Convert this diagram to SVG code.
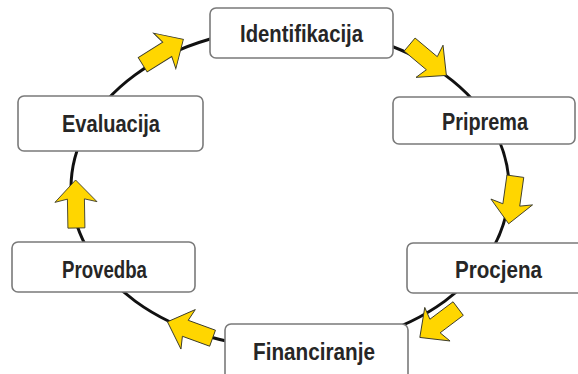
<svg xmlns="http://www.w3.org/2000/svg" width="578" height="374" viewBox="0 0 578 374">
<style>
.box{fill:#fff;stroke:#7a7a7a;stroke-width:1.6}
.lbl{font-family:"Liberation Sans",Arial,sans-serif;font-weight:bold;font-size:24px;fill:#262626;text-anchor:middle}
.arr{fill:#FFD600;stroke:#3a3a2a;stroke-width:0.9;stroke-linejoin:miter}
</style>
<defs>
<path id="ar" d="M-24,-8.5 L5,-8.5 L2,-21 L24,0 L2,21 L5,8.5 L-24,8.5 Z"/>
</defs>
<g id="connectors">
<ellipse cx="290" cy="188" rx="219" ry="160" fill="none" stroke="#111" stroke-width="3"/>
<use href="#ar" class="arr" transform="translate(163,52) rotate(-32)"/>
<use href="#ar" class="arr" transform="translate(428,60) rotate(40)"/>
<use href="#ar" class="arr" transform="translate(512,200) rotate(98)"/>
<use href="#ar" class="arr" transform="translate(439,323) rotate(143)"/>
<use href="#ar" class="arr" transform="translate(190,330) rotate(200)"/>
<use href="#ar" class="arr" transform="translate(76,204) rotate(-91)"/>
</g>
<g id="identifikacija">
<rect class="box" x="210" y="8" width="183" height="50" rx="6"/>
<text class="lbl" x="301.5" y="42" textLength="123" lengthAdjust="spacingAndGlyphs">Identifikacija</text>
</g>
<g id="priprema">
<rect class="box" x="393" y="97" width="182" height="47" rx="6"/>
<text class="lbl" x="485" y="130" textLength="86" lengthAdjust="spacingAndGlyphs">Priprema</text>
</g>
<g id="procjena">
<rect class="box" x="407" y="243" width="180" height="50" rx="6"/>
<text class="lbl" x="498.5" y="278" textLength="87" lengthAdjust="spacingAndGlyphs">Procjena</text>
</g>
<g id="financiranje">
<rect class="box" x="225" y="324" width="183" height="60" rx="6"/>
<text class="lbl" x="314" y="360" textLength="122" lengthAdjust="spacingAndGlyphs">Financiranje</text>
</g>
<g id="provedba">
<rect class="box" x="12" y="242" width="183" height="50" rx="6"/>
<text class="lbl" x="104.5" y="278" textLength="85" lengthAdjust="spacingAndGlyphs">Provedba</text>
</g>
<g id="evaluacija">
<rect class="box" x="18" y="96" width="185" height="55" rx="6"/>
<text class="lbl" x="111" y="132" textLength="98" lengthAdjust="spacingAndGlyphs">Evaluacija</text>
</g>
</svg>
